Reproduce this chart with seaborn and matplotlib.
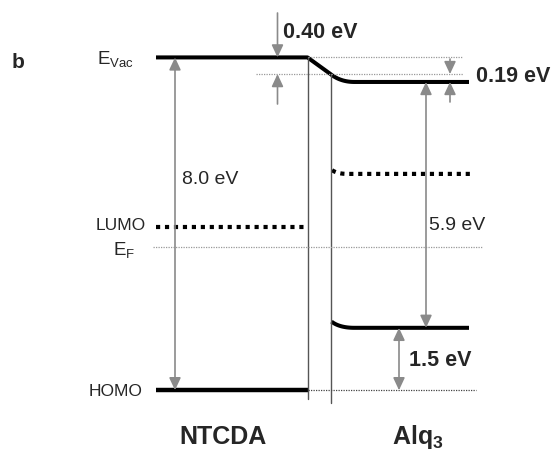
import numpy as np
import pandas as pd
import matplotlib
matplotlib.use("Agg")
import matplotlib.pyplot as plt
import seaborn as sns

# ---- data (energies in eV relative to the Fermi level) ----
layers = ["NTCDA", "Alq$_3$"]
vac_ntcda = 4.55
gap_ntcda = 8.0          # vacuum level -> HOMO of NTCDA
lumo_ntcda = 0.47
dipole = 0.40            # interface vacuum-level shift
bending = 0.19           # band bending in Alq3
ip_alq = 5.9             # vacuum level -> HOMO of Alq3
lumo_alq = 1.75
lumo_alq_if = 1.84
homo_offset = 1.5        # HOMO(Alq3) - HOMO(NTCDA)
energy_labels = ["0.40 eV", "0.19 eV", "8.0 eV", "5.9 eV", "1.5 eV"]

homo_ntcda = vac_ntcda - gap_ntcda
vac_alq_if = vac_ntcda - dipole
vac_alq = vac_alq_if - bending
homo_alq = homo_ntcda + homo_offset
homo_alq_if = homo_alq + 0.15

sns.set_theme(style="white")
plt.rcParams['font.family'] = ['Liberation Sans', 'DejaVu Sans']
plt.rcParams['mathtext.fontset'] = 'custom'
plt.rcParams['mathtext.rm'] = 'Liberation Sans'
plt.rcParams['mathtext.bf'] = 'Liberation Sans:bold'
plt.rcParams['mathtext.it'] = 'Liberation Sans:italic'

fig = plt.figure(figsize=(5.53, 4.51), dpi=100)
ax = fig.add_axes([0, 0, 1, 1])
PX_PER_EV = 41.6
EF_PX = 246.7
ax.set_xlim(0, 553)
ax.set_ylim((EF_PX - 451) / PX_PER_EV, EF_PX / PX_PER_EV)
ax.axis("off")

def ey(py):
    return (EF_PX - py) / PX_PER_EV

# layout (x positions of the layers)
xn0, xn1 = 156, 307.5    # NTCDA
xi = 330.5               # Alq3 interface
xa1 = 469                # Alq3 end

BLACK = "black"
GRAY = "#8a8a8a"
LW = 2.9

def bez(p0, p1, p2, n=30):
    t = np.linspace(0, 1, n)[:, None]
    p0, p1, p2 = map(np.array, (p0, p1, p2))
    pts = (1 - t) ** 2 * p0 + 2 * (1 - t) * t * p1 + t ** 2 * p2
    return pts[:, 0], pts[:, 1]

# vacuum level: NTCDA flat, interface dipole, band bending, Alq3 bulk
bx, by = bez((xi, vac_alq_if), (xi + 10, vac_alq), (xi + 24, vac_alq))
vac_x = np.concatenate([[xn0, xn1], bx, [xa1]])
vac_y = np.concatenate([[vac_ntcda, vac_ntcda], by, [vac_alq]])
sns.lineplot(x=vac_x, y=vac_y, ax=ax, color=BLACK, lw=LW, sort=False,
             solid_capstyle="butt", solid_joinstyle="round")

# NTCDA HOMO
sns.lineplot(x=[xn0, xn1], y=[homo_ntcda, homo_ntcda], ax=ax, color=BLACK,
             lw=LW + 0.3, solid_capstyle="butt")
# Alq3 HOMO with bending
hx, hy = bez((xi + 1, homo_alq_if), (xi + 9, homo_alq), (xi + 24, homo_alq))
sns.lineplot(x=np.concatenate([hx, [xa1]]), y=np.concatenate([hy, [homo_alq]]),
             ax=ax, color=BLACK, lw=LW, sort=False, solid_capstyle="butt")

# LUMO levels (dotted)
ax.plot([xn0, xn1 - 1], [lumo_ntcda, lumo_ntcda], color=BLACK, lw=3.0,
        ls=(0, (1.0, 1.15)), dash_capstyle="butt")
lx, ly = bez((xi + 1.5, lumo_alq_if), (xi + 7, lumo_alq), (xi + 17, lumo_alq))
ax.plot(np.concatenate([lx, [xa1 + 2]]), np.concatenate([ly, [lumo_alq]]),
        color=BLACK, lw=3.0, ls=(0, (1.0, 1.15)), dash_capstyle="butt")

# interface vertical lines
ax.plot([xn1, xn1], [vac_ntcda, ey(399)], color="#555555", lw=1.0)
ax.plot([xi, xi], [vac_alq_if, ey(403)], color="#555555", lw=1.0)

# thin dotted reference lines
dot = dict(color="#999999", lw=0.9, ls=(0, (1, 1)))
ax.plot([xn1, 463], [vac_ntcda, vac_ntcda], **dot)
ax.plot([256, 463], [vac_alq_if, vac_alq_if], **dot)
ax.plot([153, 483], [0, 0], **dot)
ax.plot([xn1, 476], [homo_ntcda, homo_ntcda], color="#444444", lw=0.9, ls=(0, (1, 1)))

def arrow(x, y0, y1, double=False):
    style = "<|-|>" if double else "-|>"
    ax.annotate("", xy=(x, y1), xytext=(x, y0),
                arrowprops=dict(arrowstyle=style + ",head_length=0.75,head_width=0.35",
                                color=GRAY, lw=1.2, shrinkA=0, shrinkB=0,
                                mutation_scale=10))

arrow(277.5, ey(13), vac_ntcda)
arrow(277.5, ey(104), vac_alq_if)
arrow(450, ey(59), vac_alq_if)
arrow(450, ey(102), vac_alq)
arrow(175, vac_ntcda, homo_ntcda, double=True)
arrow(426, vac_alq, homo_alq, double=True)
arrow(399, homo_ntcda, homo_alq, double=True)

# energy labels
ax.text(283, ey(33), energy_labels[0], fontsize=15.5, fontweight="bold", va="center", ha="left")
ax.text(476, ey(77), energy_labels[1], fontsize=15.5, fontweight="bold", va="center", ha="left")
ax.text(182, ey(180), energy_labels[2], fontsize=14, va="center", ha="left")
ax.text(429, ey(226), energy_labels[3], fontsize=14, va="center", ha="left")
ax.text(409, ey(361), energy_labels[4], fontsize=15.5, fontweight="bold", va="center", ha="left")

# level labels
ax.text(18.5, ey(62), "b", fontsize=15, fontweight="bold", va="center", ha="center")
ax.text(97, ey(59), r"E$_{\mathrm{Vac}}$", fontsize=13.5, va="center", ha="left")
ax.text(146, ey(226), "LUMO", fontsize=12.5, va="center", ha="right")
ax.text(113, ey(250), r"E$_{\mathrm{F}}$", fontsize=13.5, va="center", ha="left")
ax.text(143, ey(392), "HOMO", fontsize=12.5, va="center", ha="right")

ax.text(223, ey(437), layers[0], fontsize=18, fontweight="bold", va="center", ha="center")
ax.text(418, ey(437), r"$\mathbf{Alq_3}$", fontsize=18, va="center", ha="center")

fig.savefig("out.png", dpi=100)
